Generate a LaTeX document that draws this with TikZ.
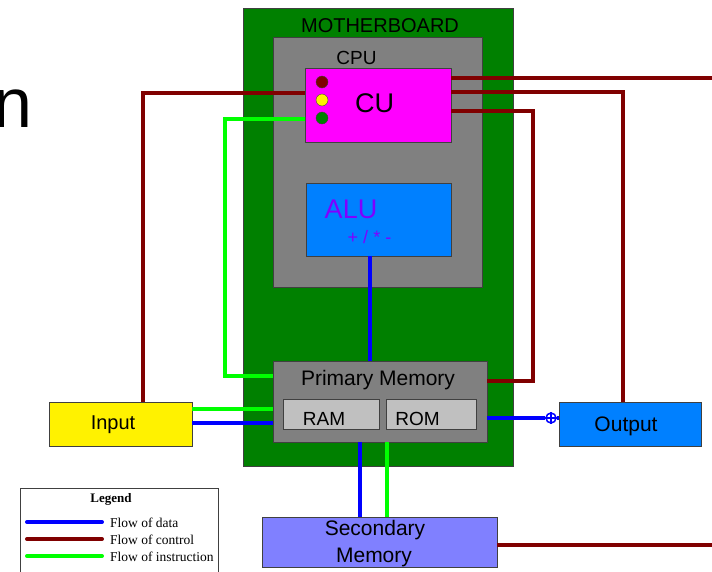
\documentclass[tikz,border=0pt]{standalone}
\usepackage{fontspec}
\setmainfont{Liberation Sans}
\newfontfamily\legendrm{Liberation Serif}
\newcommand{\fsz}[1]{\fontsize{#1}{#1}\selectfont}
\definecolor{mbgreen}{RGB}{0,128,0}
\definecolor{cpugray}{RGB}{128,128,128}
\definecolor{memgray}{RGB}{192,192,192}
\definecolor{cumag}{RGB}{255,0,255}
\definecolor{alublue}{RGB}{0,128,255}
\definecolor{alutext}{RGB}{128,0,255}
\definecolor{secblue}{RGB}{128,128,255}
\definecolor{ctrlred}{RGB}{128,0,0}
\definecolor{datablue}{RGB}{0,0,255}
\definecolor{instrgreen}{RGB}{0,255,0}

\begin{document}
\begin{tikzpicture}[x=1pt,y=-1pt,
  box/.style={draw=black!75,line width=1pt,outer sep=0pt,inner sep=0pt,anchor=north west},
  txt/.style={anchor=base,inner sep=0pt},
  ctrl/.style={draw=ctrlred,line width=4pt},
  data/.style={draw=datablue,line width=4pt},
  instr/.style={draw=instrgreen,line width=4pt}]
  \useasboundingbox (0,0) rectangle (712,571);
  % Boxes
  \node[box,fill=mbgreen,minimum width=270pt,minimum height=458pt] (mb) at (243,8) {};
  \node[box,fill=cpugray,minimum width=209pt,minimum height=250pt] (cpu) at (273,37) {};
  \node[box,fill=cumag,minimum width=146pt,minimum height=74pt] (cu) at (305,68) {};
  \node[box,fill=alublue,minimum width=145pt,minimum height=73pt] (alu) at (306,183) {};
  \node[box,fill=cpugray,minimum width=214pt,minimum height=81pt] (pm) at (273,361) {};
  \node[box,fill=memgray,minimum width=96pt,minimum height=30pt] (ram) at (283,399) {};
  \node[box,fill=memgray,minimum width=90pt,minimum height=30pt] (rom) at (386,399) {};
  \node[box,fill=yellow,minimum width=143pt,minimum height=44pt] (input) at (49,402) {};
  \node[box,fill=alublue,minimum width=142pt,minimum height=44pt] (output) at (559,402) {};
  \node[box,fill=secblue,minimum width=235pt,minimum height=50pt] (secmem) at (262,517) {};
  \node[box,fill=white,line width=0.8pt,minimum width=198pt,minimum height=100pt] (legend) at (20,488) {};
  % Lights on the CU
  \node[circle,draw=black!75,fill=ctrlred,minimum size=12pt,inner sep=0pt] (lightA) at (322,82) {};
  \node[circle,draw=black!75,fill=yellow,minimum size=12pt,inner sep=0pt] (lightB) at (322,100) {};
  \node[circle,draw=black!75,fill=mbgreen,minimum size=12pt,inner sep=0pt] (lightC) at (322,118) {};
  % Labels
  \node[txt,font=\fsz{20}] (mblbl) at (380,32) {MOTHERBOARD};
  \node[txt,font=\fsz{19}] (cpulbl) at (356.5,64) {CPU};
  \node[txt,font=\fsz{27}] (culbl) at (374.5,112) {CU};
  \node[txt,font=\fsz{27},text=alutext] (alulbl) at (351,218) {ALU};
  \node[txt,font=\fsz{18},text=alutext] (opslbl) at (369.5,243) {+ / * -};
  \node[txt,font=\fsz{21}] (pmlbl) at (378,385) {Primary Memory};
  \node[txt,font=\fsz{19}] (ramlbl) at (324,425) {RAM};
  \node[txt,font=\fsz{19}] (romlbl) at (417.5,425) {ROM};
  \node[txt,font=\fsz{20}] (inlbl) at (113,429) {Input};
  \node[txt,font=\fsz{21}] (outlbl) at (626,431) {Output};
  \node[txt,font=\fsz{21}] (seclbl) at (375,535) {Secondary};
  \node[txt,font=\fsz{21}] (seclblb) at (374,562) {Memory};
  \node[anchor=base east,inner sep=0pt,font=\fsz{70}] (cutword) at (33,127) {n};
  % Flow of control
  \draw[ctrl] ([xshift=22.5pt]input.north) |- ([yshift=12pt]cu.west);
  \draw[ctrl] ([yshift=27pt]cu.east) -- ++(262,0);
  \draw[ctrl] ([yshift=13pt]cu.east) -| ([xshift=-7pt]output.north);
  \draw[ctrl] ([yshift=-6pt]cu.east) -- ++(82,0) |- ([yshift=20.5pt]pm.east);
  \draw[ctrl] ([yshift=-3pt]secmem.east) -- ++(216,0);
  % Flow of instruction
  \draw[instr] ([yshift=25.5pt]pm.west) -- ++(-48,0) |- ([yshift=-14pt]cu.west);
  \draw[instr] ([yshift=15pt]input.east) -- ([yshift=15pt]input.east -| pm.west);
  \draw[instr] ([xshift=7pt]pm.south) -- ([xshift=7pt]pm.south |- secmem.north);
  % Flow of data
  \draw[data] ([xshift=-8.5pt]alu.south) -- ([xshift=-8.5pt]alu.south |- pm.north);
  \draw[data] ([yshift=1pt]input.east) -- ([yshift=1pt]input.east -| pm.west);
  \draw[data] ([xshift=-20pt]pm.south) -- ([xshift=-20pt]pm.south |- secmem.north);
  \node[circle,draw=datablue,line width=1.5pt,fill=white,minimum size=10pt,inner sep=0pt] (tap) at (551,418) {};
  \draw[data] (pm.east |- tap) -- (tap);
  \draw[data] (tap) -- (output.west |- tap);
  \draw[datablue,line width=1.5pt] (tap.west) -- (tap.east) (tap.north) -- (tap.south);
  % Legend
  \node[txt,font=\legendrm\bfseries\fsz{13}] (legtitle) at (111,502) {Legend};
  \draw[data,line cap=round] (27,522) -- (102,522);
  \draw[ctrl,line cap=round] (27,539) -- (102,539);
  \draw[instr,line cap=round] (27,556) -- (102,556);
  \node[anchor=base west,inner sep=0pt,font=\legendrm\fsz{13.5}] (legdata) at (110,527) {Flow of data};
  \node[anchor=base west,inner sep=0pt,font=\legendrm\fsz{13.5}] (legctrl) at (110,544) {Flow of control};
  \node[anchor=base west,inner sep=0pt,font=\legendrm\fsz{13.5}] (leginstr) at (110,561) {Flow of instruction};
\end{tikzpicture}
\end{document}
